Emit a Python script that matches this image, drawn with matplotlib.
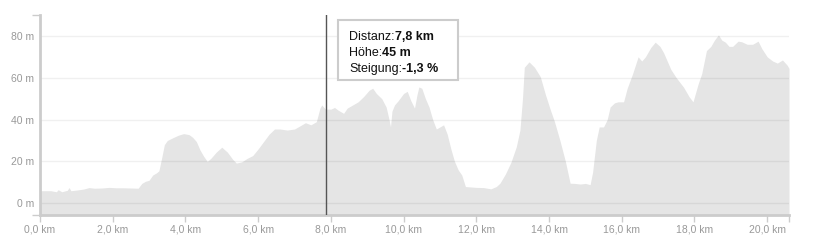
import matplotlib
matplotlib.use("Agg")
import matplotlib.pyplot as plt
import numpy as np

# elevation profile (km, m)
dist_km = [0.0, 0.02, 0.3, 0.45, 0.5, 0.6, 0.75, 0.8, 0.85, 1.0, 1.2, 1.35, 1.5, 1.7, 1.9,
           2.1, 2.3, 2.5, 2.7, 2.8, 2.9, 3.0, 3.1, 3.2, 3.27, 3.35, 3.42, 3.5, 3.65, 3.8,
           3.95, 4.1, 4.2, 4.3, 4.4, 4.5, 4.6, 4.7, 4.85, 5.0, 5.15, 5.3, 5.4, 5.55, 5.7,
           5.85, 6.0, 6.15, 6.3, 6.45, 6.6, 6.8, 7.0, 7.15, 7.3, 7.45, 7.6, 7.7, 7.75, 7.85,
           8.0, 8.1, 8.2, 8.35, 8.45, 8.6, 8.75, 8.9, 9.05, 9.15, 9.25, 9.4, 9.52, 9.6, 9.64,
           9.68, 9.75, 9.85, 10.0, 10.1, 10.2, 10.3, 10.37, 10.42, 10.5, 10.6, 10.7, 10.8, 10.9,
           11.0, 11.1, 11.2, 11.3, 11.4, 11.5, 11.6, 11.7, 11.85, 12.0, 12.2, 12.4, 12.55, 12.65,
           12.8, 12.95, 13.1, 13.2, 13.27, 13.32, 13.45, 13.6, 13.76, 13.9, 14.03, 14.15, 14.3,
           14.45, 14.58, 14.7, 14.86, 15.0, 15.13, 15.2, 15.3, 15.38, 15.5, 15.6, 15.68, 15.8,
           15.9, 16.05, 16.15, 16.3, 16.45, 16.55, 16.65, 16.8, 16.92, 17.05, 17.15, 17.35, 17.5,
           17.7, 17.85, 17.96, 18.1, 18.2, 18.33, 18.45, 18.55, 18.66, 18.75, 18.85, 18.95, 19.05,
           19.2, 19.3, 19.45, 19.6, 19.75, 19.85, 20.0, 20.15, 20.28, 20.42, 20.55, 20.6]
hoehe_m = [7.2, 6.0, 6.0, 5.5, 6.5, 5.5, 6.2, 7.5, 6.0, 6.3, 6.8, 7.5, 7.2, 7.3, 7.6,
           7.4, 7.4, 7.3, 7.2, 9.5, 10.5, 11.0, 13.5, 14.5, 15.5, 22.0, 28.0, 30.0, 31.3, 32.5,
           33.3, 32.8, 31.5, 29.5, 25.5, 22.5, 20.0, 21.5, 24.5, 26.8, 24.5, 21.0, 19.2, 19.8, 21.5,
           22.8, 26.0, 29.5, 33.0, 35.5, 35.5, 35.0, 35.5, 37.0, 38.5, 37.5, 39.0, 45.5, 47.0, 45.0,
           45.0, 45.8, 44.5, 43.0, 45.5, 47.0, 48.5, 51.0, 54.0, 55.0, 52.5, 50.0, 46.0, 40.0, 36.5,
           44.0, 47.0, 49.0, 52.5, 53.5, 49.0, 45.5, 52.0, 55.6, 55.0, 50.0, 46.0, 40.0, 35.5,
           36.5, 37.5, 33.0, 26.0, 20.0, 16.0, 13.5, 8.0, 7.8, 7.6, 7.5, 6.9, 8.0, 9.6,
           14.0, 19.5, 27.0, 35.0, 50.0, 65.0, 67.6, 65.0, 60.5, 52.0, 45.0, 39.0, 30.0,
           20.0, 9.6, 9.5, 9.2, 9.5, 8.9, 15.0, 30.0, 36.5, 36.5, 40.0, 46.0, 48.0,
           48.5, 48.5, 55.0, 62.0, 70.0, 68.0, 70.0, 74.5, 77.0, 75.0, 72.0, 64.0, 60.0,
           55.5, 51.0, 48.5, 57.0, 62.0, 73.0, 75.0, 78.0, 80.5, 78.0, 77.0, 75.0, 75.0,
           77.5, 77.2, 76.0, 76.0, 77.5, 74.0, 70.0, 68.0, 67.0, 68.5, 66.0, 64.5]

x_ticks = [0, 2, 4, 6, 8, 10, 12, 14, 16, 18, 20]
y_ticks = [0, 20, 40, 60, 80]

cursor_km = 7.87
tip_labels = ["Distanz:", "Höhe:", "Steigung:"]
tip_values = ["7,8 km", "45 m", "-1,3 %"]

x_max = 20.6
y_lo, y_hi = -5.6, 90

W, H = 821, 243
fig = plt.figure(figsize=(W / 100, H / 100), dpi=100)
ax = fig.add_axes([40 / W, (H - 215) / H, (789 - 40) / W, 200 / H])

ax.fill_between(dist_km, hoehe_m, y_lo, color="#e5e5e5", lw=0, zorder=1)
for yt in y_ticks:
    ax.axhline(yt, color="black", alpha=0.06, lw=1, zorder=2)

ax.axvline(cursor_km, color="#555555", lw=1, zorder=3)

ax.set_xlim(0, x_max)
ax.set_ylim(y_lo, y_hi)

ax.set_xticks(x_ticks)
ax.set_xticklabels([f"{v:.1f} km".replace(".", ",") for v in x_ticks])
ax.set_xticks([x_max], minor=True)
ax.set_yticks(y_ticks)
ax.set_yticklabels([f"{v} m" for v in y_ticks])
ax.set_yticks([y_lo, y_hi], minor=True)

ax.tick_params(axis="x", which="both", length=5, width=1, color="#cccccc",
               labelsize=7.5, labelcolor="#999999", pad=1.5)
ax.tick_params(axis="y", which="major", length=0, labelsize=7.5,
               labelcolor="#999999", pad=4)
ax.tick_params(axis="y", which="minor", length=6, width=1, color="#cccccc")
for lab in ax.get_xticklabels() + ax.get_yticklabels():
    lab.set_family(["Liberation Sans", "DejaVu Sans"])

for s in ["top", "right"]:
    ax.spines[s].set_visible(False)
for s in ["left", "bottom"]:
    ax.spines[s].set_color("#cccccc")
    ax.spines[s].set_linewidth(2)

# tooltip box
box = plt.Rectangle((338 / W, (H - 80) / H), 120 / W, 60 / H, transform=fig.transFigure,
                    facecolor="white", edgecolor="#cccccc", lw=1.5, zorder=5)
fig.add_artist(box)

fig.canvas.draw()
renderer = fig.canvas.get_renderer()
line_y = [37, 53, 69]
for lab, val, ly in zip(tip_labels, tip_values, line_y):
    t = fig.text(349 / W, (H - ly) / H, lab, fontsize=9, va="center", ha="left",
                 family=["Liberation Sans", "DejaVu Sans"], color="#111111", zorder=6)
    bb = t.get_window_extent(renderer)
    fig.text(bb.x1 / W, (H - ly) / H, val, fontsize=9, va="center", ha="left",
             fontweight="bold", family=["Liberation Sans", "DejaVu Sans"],
             color="#111111", zorder=6)

fig.savefig("out.png", dpi=100)
